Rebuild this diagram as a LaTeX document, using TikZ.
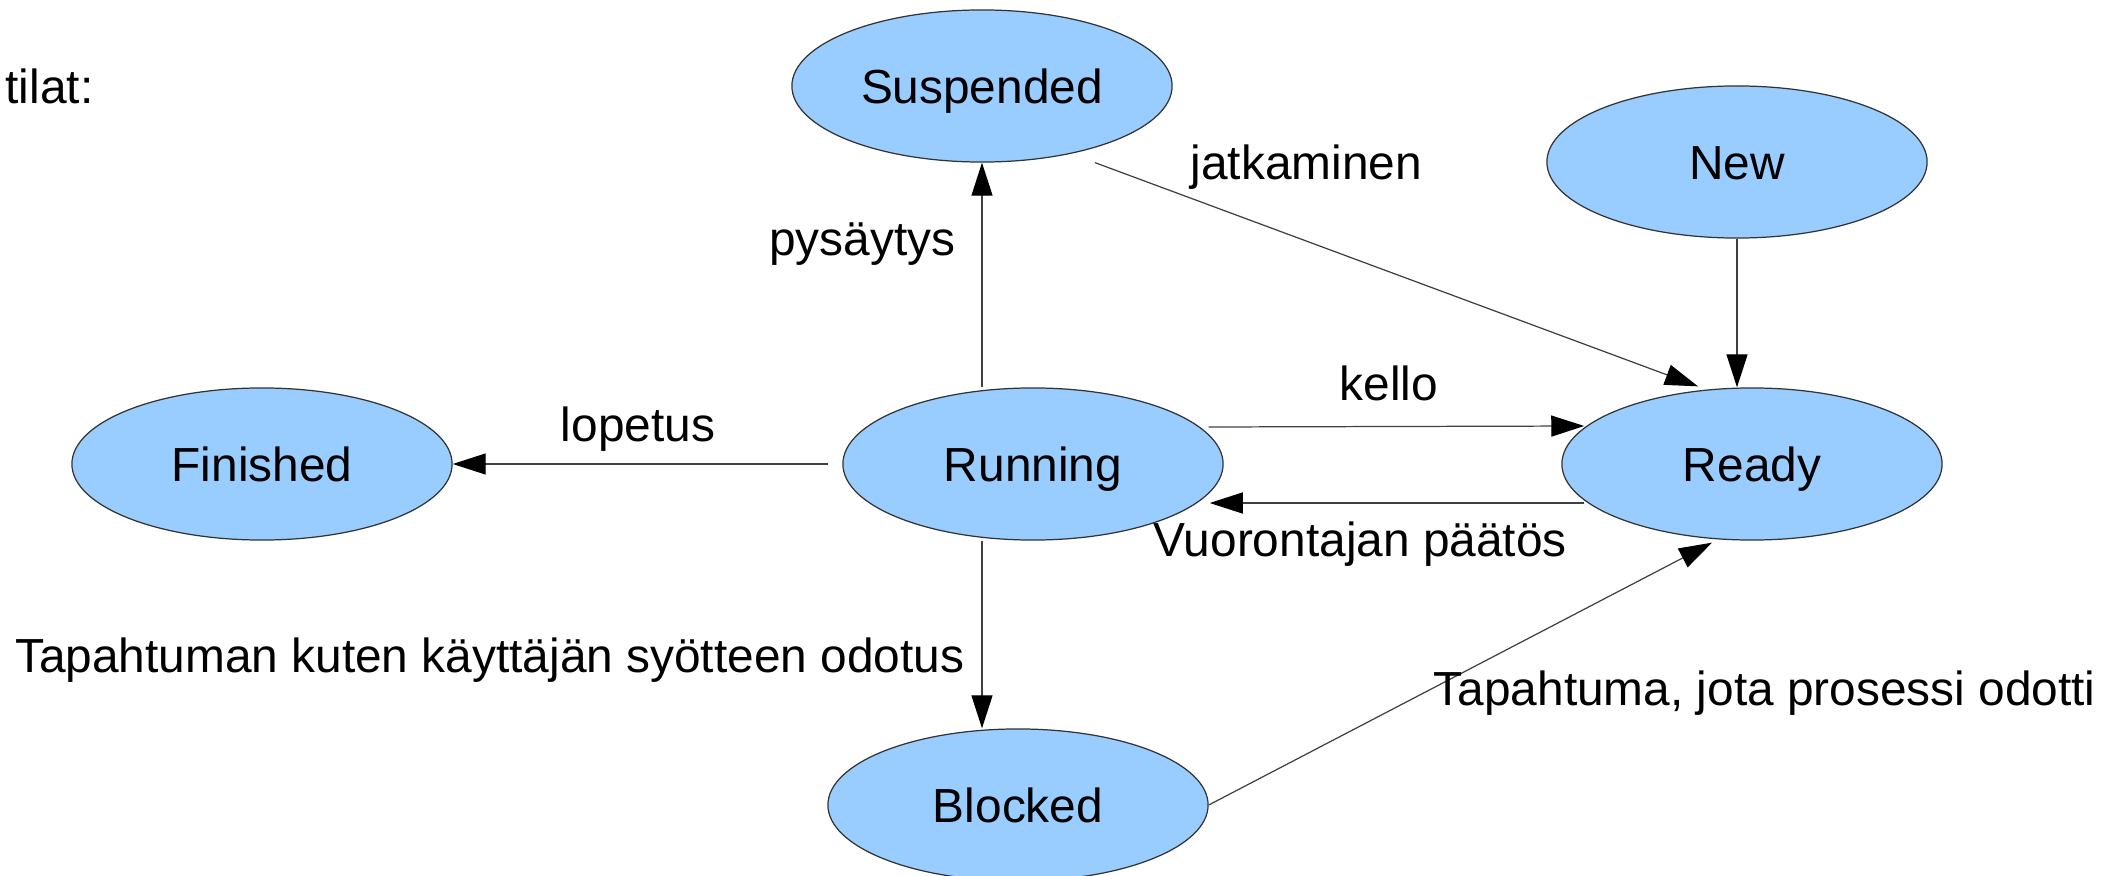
\documentclass[tikz,border=0pt]{standalone}
\usepackage{fontspec}
\setmainfont{Liberation Sans}
\usetikzlibrary{arrows.meta,shapes.geometric,backgrounds}

\definecolor{stateblue}{HTML}{99CCFF}

\tikzset{
  state/.style={ellipse, draw=black!80, fill=stateblue, line width=0.35pt,
    minimum width=3.8cm, minimum height=1.52cm, inner sep=0pt,
    text height=0.34cm, text depth=0pt},
  edgetext/.style={inner sep=0pt, anchor=base},
  trans/.style={->, draw=black!75, line width=0.35pt}
}

\begin{document}
\begin{tikzpicture}[x=0.01cm, y=0.01cm,
    >={Triangle[length=0.33cm,width=0.21cm,color=black]},
    font=\fontsize{13.6}{16}\selectfont]
    \useasboundingbox (0,0) rectangle (2120,-876);

    % States
    \node[edgetext, anchor=base west] (tilat) at (5,-104) {tilat:};
    \node[state] (Suspended) at (982,-86) {Suspended};
    \node[state] (New) at (1737,-162) {New};
    \node[state] (Finished) at (262,-464) {Finished};
    \node[state] (Running) at (1033,-464) {Running};
    \node[state] (Ready) at (1752,-464) {Ready};
    \node[state] (Blocked) at (1018,-805) {Blocked};

    % Transition labels
    \node[edgetext, anchor=base east] (pysaytys) at (956,-255) {pysäytys};
    \node[edgetext, anchor=base west] (jatkaminen) at (1190,-180) {jatkaminen};
    \node[edgetext] (kello) at (1389,-400) {kello};
    \node[edgetext, anchor=base west] (vuoro) at (1153,-557) {Vuorontajan päätös};
    \node[edgetext] (lopetus) at (638,-442) {lopetus};
    \node[edgetext, anchor=base east] (odotus) at (965,-672) {Tapahtuman kuten käyttäjän syötteen odotus};
    \node[edgetext, anchor=base west] (tapahtuma) at (1433,-705) {Tapahtuma, jota prosessi odotti};

    % Transitions
    \begin{scope}[on background layer]
      \draw[trans] (Suspended.south |- Running.north) -- (Suspended.south);
      \draw[trans] (Suspended.south |- Running.south) -- (Suspended.south |- Blocked.north);
      \draw[trans] ([shift={(113,0)}]Suspended.south) -- ([shift={(-54,1)}]Ready.north);
      \draw[trans] (New.south) -- (New.south |- Ready.north);
      \draw[trans] ([shift={(-15,37)}]Running.east) -- ([shift={(23,38)}]Ready.west);
      \draw[trans] ([shift={(23,-39)}]Ready.west) -- ([shift={(-14,-39)}]Running.east);
      \draw[trans] ([shift={(-14,0)}]Running.west) -- (Finished.east);
      \draw[trans] (Blocked.east) -- ([shift={(-40,-2)}]Ready.south);
    \end{scope}
\end{tikzpicture}
\end{document}
